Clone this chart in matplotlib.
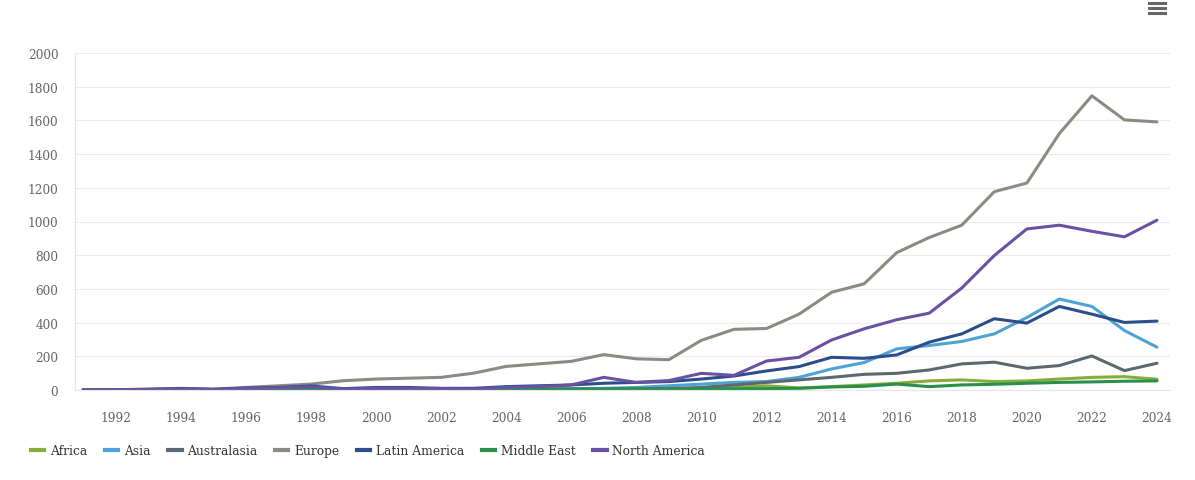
import matplotlib.pyplot as plt
from matplotlib.lines import Line2D

years = list(range(1991, 2025))

africa = [0, 1, 2, 3, 2, 3, 4, 5, 3, 4, 4, 4, 4, 5, 5, 6, 6, 7, 8, 10, 15, 25,
          12, 20, 30, 40, 54, 60, 50, 54, 65, 75, 79, 64]
asia = [0, 1, 1, 2, 2, 3, 4, 5, 3, 4, 4, 5, 5, 6, 7, 8, 10, 15, 25, 35, 45, 50,
        75, 125, 163, 244, 264, 288, 333, 430, 540, 496, 353, 254]
australasia = [0, 1, 1, 2, 2, 3, 3, 4, 3, 3, 4, 4, 4, 5, 5, 6, 6, 7, 8, 15, 30, 45,
               60, 75, 93, 99, 119, 155, 165, 129, 145, 202, 115, 159]
europe = [0, 2, 5, 10, 5, 15, 25, 35, 55, 65, 70, 75, 100, 140, 155, 170, 210, 185,
          180, 295, 360, 365, 450, 580, 630, 815, 905, 978, 1177, 1228, 1522, 1746,
          1603, 1591]
latin_america = [0, 2, 4, 8, 4, 12, 15, 24, 8, 15, 15, 10, 10, 20, 25, 30, 40, 45,
                 50, 65, 83, 113, 139, 194, 188, 208, 284, 333, 423, 397, 496, 450,
                 401, 409]
middle_east = [0, 1, 1, 1, 1, 2, 2, 2, 2, 2, 2, 2, 3, 3, 3, 4, 4, 5, 5, 6, 7, 8,
               10, 18, 22, 35, 20, 30, 34, 40, 45, 48, 52, 54]
north_america = [0, 2, 3, 6, 3, 10, 12, 18, 6, 10, 10, 8, 5, 15, 20, 30, 75, 45,
                 56, 99, 87, 172, 194, 297, 363, 417, 456, 605, 798, 956, 978, 942,
                 909, 1008]

series = [
    ('Africa', africa, '#86ac3c'),
    ('Asia', asia, '#4fa2d4'),
    ('Australasia', australasia, '#5d6971'),
    ('Europe', europe, '#8d8a82'),
    ('Latin America', latin_america, '#2c4e8a'),
    ('Middle East', middle_east, '#28904a'),
    ('North America', north_america, '#6a51a3'),
]

fig = plt.figure(figsize=(11.95, 4.81), dpi=100)
ax = fig.add_axes([75 / 1195, 1 - 391 / 481, (1170 - 75) / 1195, (391 - 54) / 481])

for name, vals, col in series:
    ax.plot(years, vals, color=col, lw=2.2, label=name, solid_capstyle='round')

ax.set_xlim(1990.75, 2024.4)
ax.set_ylim(0, 2000)
ax.set_yticks(range(0, 2001, 200))
ax.set_xticks(range(1992, 2025, 2))
ax.grid(axis='y', color='#ececec', lw=0.8)
ax.set_axisbelow(True)
for s in ['top', 'right']:
    ax.spines[s].set_visible(False)
for s in ['left', 'bottom']:
    ax.spines[s].set_color('#e6e6e6')
    ax.spines[s].set_linewidth(0.8)
ax.tick_params(length=0, colors='#666666', labelsize=8.7)
ax.tick_params(axis='x', pad=15)
ax.tick_params(axis='y', pad=12)
for lab in ax.get_xticklabels() + ax.get_yticklabels():
    lab.set_family('DejaVu Serif')

handles = [Line2D([], [], color=c, lw=3) for _, _, c in series]
fig.legend(handles, [n for n, _, _ in series], loc='center left',
           bbox_to_anchor=(20 / 1195, 1 - 452 / 481), ncol=7, frameon=False,
           prop={'family': 'DejaVu Serif', 'size': 8.8}, handlelength=1.1,
           handletextpad=0.45, columnspacing=1.45, labelcolor='#333333')

# menu icon
for yy in [4, 9, 14]:
    fig.add_artist(Line2D([1149 / 1195, 1165 / 1195], [1 - yy / 481, 1 - yy / 481],
                          color='#666666', lw=2.2, transform=fig.transFigure))

fig.savefig('out.png', dpi=100)
